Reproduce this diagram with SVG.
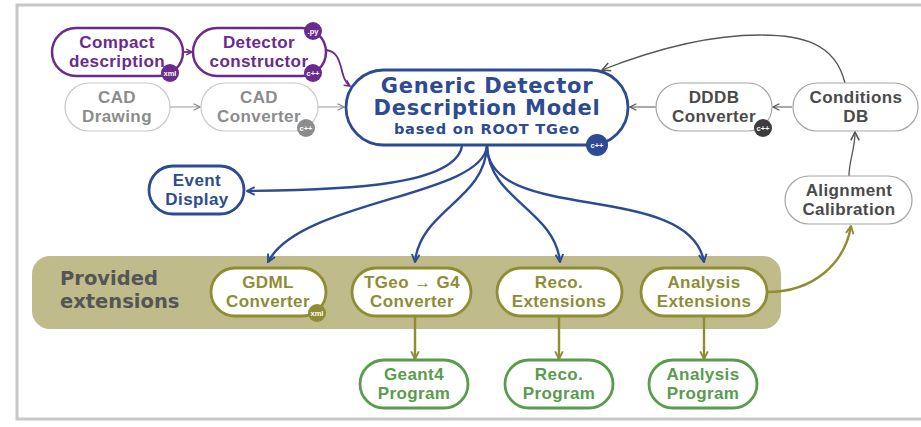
<svg xmlns="http://www.w3.org/2000/svg" width="921" height="427" viewBox="0 0 921 427">
<defs>
<style>
text{font-family:"Liberation Sans","DejaVu Sans",sans-serif;font-weight:700;text-anchor:middle}
.lbl{font-size:17px;letter-spacing:0.4px}
.ttl{font-family:"DejaVu Sans","Liberation Sans",sans-serif;font-size:21px;letter-spacing:0.7px}
.sub{font-family:"DejaVu Sans","Liberation Sans",sans-serif;font-size:14.5px;letter-spacing:0.8px}
.pur rect{fill:#fff;stroke:#6b2a8e;stroke-width:2.5}
.pur text{fill:#6b2a8e}
.gry rect{fill:#fff;stroke:#c9c9c9;stroke-width:1.2}
.gry text{fill:#8c8c8c}
.dgy rect{fill:#fff;stroke:#a6a6a6;stroke-width:1.2}
.dgy text{fill:#4a4a4a}
.blu rect{fill:#fff;stroke:#2d4b93;stroke-width:2.8}
.blu text{fill:#2d4b93}
.olv rect{fill:#fff;stroke:#8e8d35;stroke-width:2.8}
.olv text{fill:#8e8d35}
.grn rect{fill:#fff;stroke:#5a9c4e;stroke-width:2.8}
.grn text{fill:#5a9c4e}
.badge text{fill:#fff;font-size:7.5px;font-weight:700;letter-spacing:0}
.c path{fill:none}
</style>
<marker id="ab" viewBox="0 0 10 10" refX="9" refY="5" markerWidth="4" markerHeight="4" orient="auto" markerUnits="strokeWidth"><path d="M1,1 L9,5 L1,9" fill="none" stroke="#2d4b93" stroke-width="2"/></marker>
<marker id="ap" viewBox="0 0 10 10" refX="9" refY="5" markerWidth="4" markerHeight="4" orient="auto" markerUnits="strokeWidth"><path d="M1,1 L9,5 L1,9" fill="none" stroke="#6b2a8e" stroke-width="2"/></marker>
<marker id="ag" viewBox="0 0 10 10" refX="9" refY="5" markerWidth="8" markerHeight="8" orient="auto" markerUnits="strokeWidth"><path d="M1,1 L9,5 L1,9" fill="none" stroke="#888" stroke-width="1.5"/></marker>
<marker id="ad" viewBox="0 0 10 10" refX="9" refY="5" markerWidth="8" markerHeight="8" orient="auto" markerUnits="strokeWidth"><path d="M1,1 L9,5 L1,9" fill="none" stroke="#555" stroke-width="1.5"/></marker>
<marker id="ao" viewBox="0 0 10 10" refX="9" refY="5" markerWidth="4" markerHeight="4" orient="auto" markerUnits="strokeWidth"><path d="M1,1 L9,5 L1,9" fill="none" stroke="#8e8d35" stroke-width="2"/></marker>
</defs>
<rect x="0" y="0" width="921" height="427" fill="#fff"/>
<rect x="17" y="5" width="912" height="414" fill="#fff" stroke="#c8c8c8" stroke-width="3"/>

<rect id="band" x="32" y="256" width="749" height="73" rx="18" fill="#bfbb8b"/>
<g id="provided-extensions">
<text style="font-family:'DejaVu Sans','Liberation Sans',sans-serif;font-size:19.5px;fill:#555;text-anchor:start"><tspan x="60" y="285">Provided</tspan><tspan x="60" y="308">extensions</tspan></text>
</g>

<g id="connectors" class="c">
<path d="M183,52 L192,52" stroke="#6b2a8e" stroke-width="1.8" marker-end="url(#ap)"/>
<path d="M326,50 C345,52 338,78 350,86" stroke="#6b2a8e" stroke-width="1.8" marker-end="url(#ap)"/>
<path d="M170,107 L200,107" stroke="#999" stroke-width="1" marker-end="url(#ag)"/>
<path d="M318,107 L344,107" stroke="#999" stroke-width="1" marker-end="url(#ag)"/>
<path d="M792,107 L773,107" stroke="#555" stroke-width="1" marker-end="url(#ad)"/>
<path d="M656,107 L630,107" stroke="#555" stroke-width="1" marker-end="url(#ad)"/>
<path d="M845,83 C835,42 800,35 760,35 C700,35 640,55 602,70" stroke="#555" stroke-width="1.3" marker-end="url(#ad)"/>
<path d="M849,176 C849,160 855,150 855,132" stroke="#555" stroke-width="1.3" marker-end="url(#ad)"/>
<path d="M767,292 C815,292 845,262 851,226" stroke="#8e8d35" stroke-width="2.4" marker-end="url(#ao)"/>
<path d="M462,146 C455,185 350,190 247,191" stroke="#2d4b93" stroke-width="2.4" marker-end="url(#ab)"/>
<path d="M487,146 C482,197 300,200 268,262" stroke="#2d4b93" stroke-width="2.4" marker-end="url(#ab)"/>
<path d="M487,146 C485,200 420,210 415,262" stroke="#2d4b93" stroke-width="2.4" marker-end="url(#ab)"/>
<path d="M487,146 C489,200 555,210 560,262" stroke="#2d4b93" stroke-width="2.4" marker-end="url(#ab)"/>
<path d="M487,146 C488,225 690,180 704,262" stroke="#2d4b93" stroke-width="2.4" marker-end="url(#ab)"/>
<path d="M415,316 L415,359" stroke="#8e8d35" stroke-width="2.4" marker-end="url(#ao)"/>
<path d="M559,316 L559,359" stroke="#8e8d35" stroke-width="2.4" marker-end="url(#ao)"/>
<path d="M704,316 L704,359" stroke="#8e8d35" stroke-width="2.4" marker-end="url(#ao)"/>
</g>

<g id="compact-description" class="pur">
<rect x="52" y="28" width="131" height="48" rx="24"/>
<text class="lbl"><tspan x="117" y="48">Compact</tspan><tspan x="117" y="67">description</tspan></text>
<g class="badge"><circle cx="170" cy="73" r="9" fill="#6b2a8e"/><text x="170" y="76">xml</text></g>
</g>
<g id="detector-constructor" class="pur">
<rect x="193" y="28" width="133" height="48" rx="24"/>
<text class="lbl"><tspan x="259" y="48">Detector</tspan><tspan x="259" y="67">constructor</tspan></text>
<g class="badge"><circle cx="313" cy="31" r="9" fill="#6b2a8e"/><text x="313" y="34">.py</text></g>
<g class="badge"><circle cx="313" cy="73" r="9" fill="#6b2a8e"/><text x="313" y="76">c++</text></g>
</g>
<g id="cad-drawing" class="gry">
<rect x="65" y="83" width="105" height="48" rx="24"/>
<text class="lbl"><tspan x="117" y="103">CAD</tspan><tspan x="117" y="122">Drawing</tspan></text>
</g>
<g id="cad-converter" class="gry">
<rect x="201" y="83" width="117" height="48" rx="24"/>
<text class="lbl"><tspan x="259" y="103">CAD</tspan><tspan x="259" y="122">Converter</tspan></text>
<g class="badge"><circle cx="306" cy="128" r="9" fill="#8c8c8c"/><text x="306" y="131">c++</text></g>
</g>
<g id="gddm" class="blu">
<rect x="346" y="70" width="282" height="75" rx="37.5"/>
<text><tspan class="ttl" x="487" y="93">Generic Detector</tspan><tspan class="ttl" x="487" y="115">Description Model</tspan><tspan class="sub" x="487" y="134">based on ROOT TGeo</tspan></text>
<g class="badge"><circle cx="597" cy="145" r="11" fill="#2d4b93"/><text x="597" y="148">c++</text></g>
</g>
<g id="dddb-converter" class="dgy">
<rect x="656" y="83" width="116" height="48" rx="24"/>
<text class="lbl"><tspan x="714" y="103">DDDB</tspan><tspan x="714" y="122">Converter</tspan></text>
<g class="badge"><circle cx="763" cy="128" r="9" fill="#3d3d3d"/><text x="763" y="131">c++</text></g>
</g>
<g id="conditions-db" class="dgy">
<rect x="793" y="83" width="125" height="48" rx="24"/>
<text class="lbl"><tspan x="856" y="103">Conditions</tspan><tspan x="856" y="122">DB</tspan></text>
</g>
<g id="alignment-calibration" class="dgy">
<rect x="785" y="176" width="127" height="48" rx="24"/>
<text class="lbl"><tspan x="849" y="196">Alignment</tspan><tspan x="849" y="215">Calibration</tspan></text>
</g>
<g id="event-display" class="blu">
<rect x="149" y="166" width="95" height="48" rx="24"/>
<text class="lbl"><tspan x="197" y="186">Event</tspan><tspan x="197" y="205">Display</tspan></text>
</g>
<g id="gdml-converter" class="olv">
<rect x="211" y="268" width="115" height="48" rx="24"/>
<text class="lbl"><tspan x="268" y="288">GDML</tspan><tspan x="268" y="307">Converter</tspan></text>
<g class="badge"><circle cx="317" cy="313" r="9" fill="#8e8d35"/><text x="317" y="316">xml</text></g>
</g>
<g id="tgeo-g4-converter" class="olv">
<rect x="352" y="268" width="119" height="48" rx="24"/>
<text class="lbl"><tspan x="412" y="288">TGeo → G4</tspan><tspan x="412" y="307">Converter</tspan></text>
</g>
<g id="reco-extensions" class="olv">
<rect x="497" y="268" width="125" height="48" rx="24"/>
<text class="lbl"><tspan x="559" y="288">Reco.</tspan><tspan x="559" y="307">Extensions</tspan></text>
</g>
<g id="analysis-extensions" class="olv">
<rect x="641" y="268" width="126" height="48" rx="24"/>
<text class="lbl"><tspan x="704" y="288">Analysis</tspan><tspan x="704" y="307">Extensions</tspan></text>
</g>
<g id="geant4-program" class="grn">
<rect x="360" y="360" width="108" height="48" rx="24"/>
<text class="lbl"><tspan x="414" y="380">Geant4</tspan><tspan x="414" y="399">Program</tspan></text>
</g>
<g id="reco-program" class="grn">
<rect x="505" y="360" width="108" height="48" rx="24"/>
<text class="lbl"><tspan x="559" y="380">Reco.</tspan><tspan x="559" y="399">Program</tspan></text>
</g>
<g id="analysis-program" class="grn">
<rect x="649" y="360" width="108" height="48" rx="24"/>
<text class="lbl"><tspan x="703" y="380">Analysis</tspan><tspan x="703" y="399">Program</tspan></text>
</g>
</svg>
